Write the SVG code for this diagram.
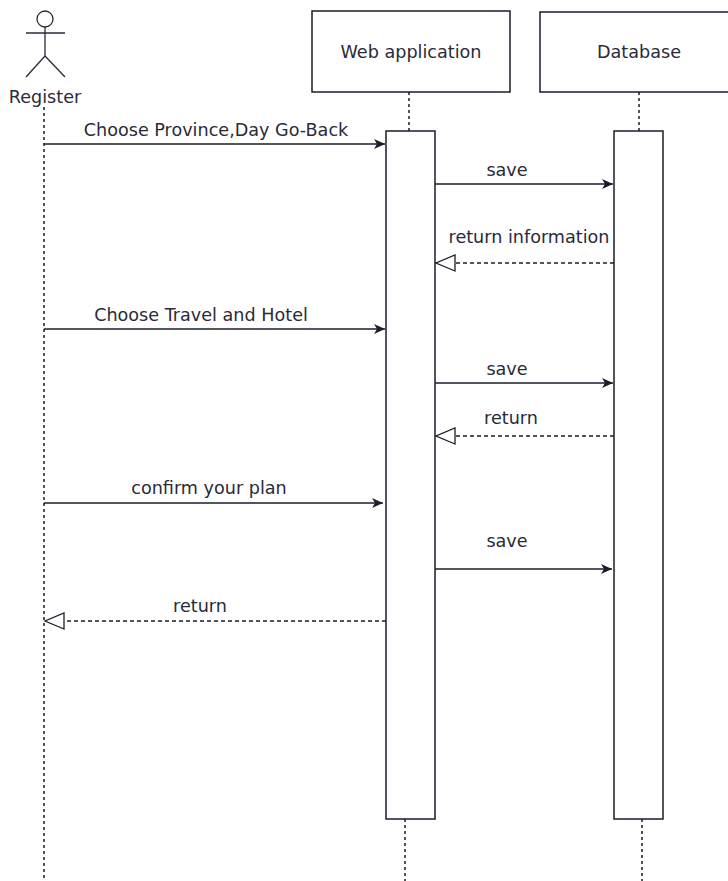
<svg xmlns="http://www.w3.org/2000/svg" width="728" height="881" viewBox="0 0 728 881">
<style>
text{font-family:"DejaVu Sans",Verdana,sans-serif;font-size:17.6px;fill:#2a2a3a;text-anchor:middle}
.box{fill:#fff;stroke:#1c1c2c;stroke-width:1.5}
.life{stroke:#1c1c2c;stroke-width:1.5;stroke-dasharray:3 3;fill:none}
.msg{stroke:#1c1c2c;stroke-width:1.3;fill:none}
.ret{stroke:#1c1c2c;stroke-width:1.3;fill:none;stroke-dasharray:4 3}
.actor{stroke:#2a2a3a;stroke-width:1.3;fill:none}
</style>
<defs>
<marker id="solid" markerWidth="12" markerHeight="10" refX="11" refY="5" orient="auto" markerUnits="userSpaceOnUse">
<path d="M0,0 L11,5 L0,10 L3,5 Z" fill="#1c1c2c"/>
</marker>
<marker id="open" markerWidth="22" markerHeight="20" refX="20" refY="9" orient="auto" markerUnits="userSpaceOnUse">
<path d="M1,1 L20,9 L1,17 Z" fill="#fff" stroke="#1c1c2c" stroke-width="1.3"/>
</marker>
</defs>
<rect width="728" height="881" fill="#fff"/>
<g id="lifelines">
<line class="life" x1="44" y1="107" x2="44" y2="881"/>
<line class="life" x1="409" y1="92" x2="409" y2="131"/>
<line class="life" x1="405" y1="819" x2="405" y2="881"/>
<line class="life" x1="639" y1="92" x2="639" y2="131"/>
<line class="life" x1="642" y1="819" x2="642" y2="881"/>
</g>
<g id="register">
<circle class="actor" cx="45" cy="19" r="8"/>
<line class="actor" x1="45" y1="27" x2="45" y2="57"/>
<line class="actor" x1="26" y1="33" x2="65" y2="33"/>
<line class="actor" x1="45" y1="56" x2="26" y2="77"/>
<line class="actor" x1="45" y1="56" x2="65" y2="77"/>
<text x="45" y="103">Register</text>
</g>
<g id="web-application">
<rect class="box" x="312" y="11" width="198" height="81"/>
<text x="411" y="58">Web application</text>
<rect class="box" x="386" y="131" width="49" height="688"/>
</g>
<g id="database">
<rect class="box" x="540" y="12" width="200" height="80"/>
<text x="639" y="58">Database</text>
<rect class="box" x="614" y="131" width="49" height="688"/>
</g>
<g id="connectors">
<line class="msg" x1="44" y1="144" x2="385" y2="144" marker-end="url(#solid)"/>
<text x="216" y="136">Choose Province,Day Go-Back</text>
<line class="msg" x1="435" y1="184" x2="613" y2="184" marker-end="url(#solid)"/>
<text x="507" y="176">save</text>
<line class="ret" x1="614" y1="263" x2="436" y2="263" marker-end="url(#open)"/>
<text x="529" y="243">return information</text>
<line class="msg" x1="44" y1="329" x2="385" y2="329" marker-end="url(#solid)"/>
<text x="201" y="321">Choose Travel and Hotel</text>
<line class="msg" x1="435" y1="383" x2="613" y2="383" marker-end="url(#solid)"/>
<text x="507" y="375">save</text>
<line class="ret" x1="614" y1="436" x2="436" y2="436" marker-end="url(#open)"/>
<text x="511" y="424">return</text>
<line class="msg" x1="44" y1="503" x2="383" y2="503" marker-end="url(#solid)"/>
<text x="209" y="494">confirm your plan</text>
<line class="msg" x1="435" y1="569" x2="612" y2="569" marker-end="url(#solid)"/>
<text x="507" y="547">save</text>
<line class="ret" x1="386" y1="621" x2="45" y2="621" marker-end="url(#open)"/>
<text x="200" y="612">return</text>
</g>
</svg>
